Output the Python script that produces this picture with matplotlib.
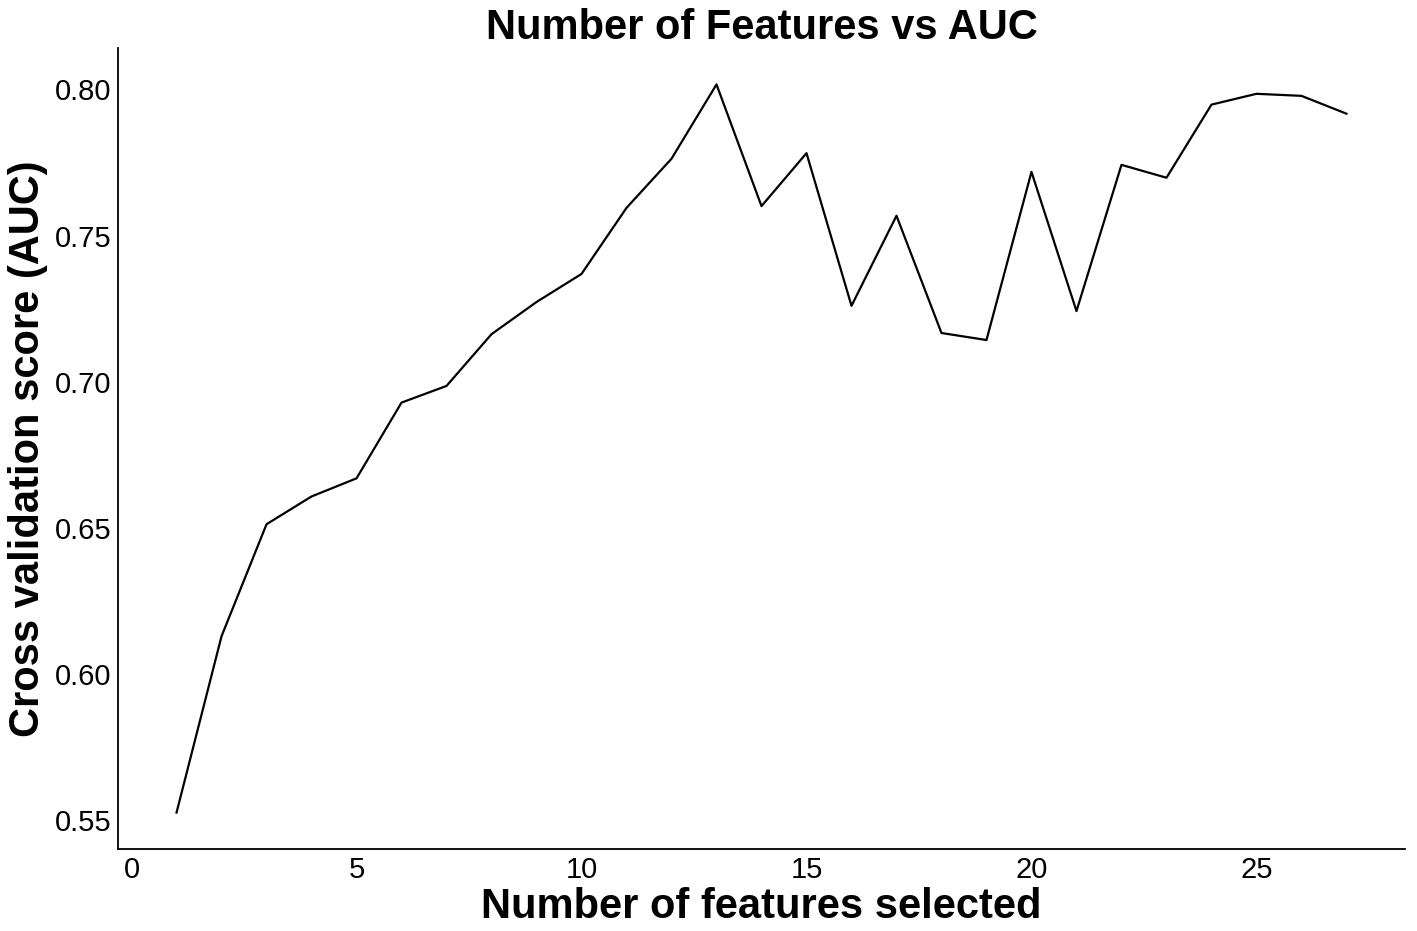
import matplotlib
matplotlib.use("Agg")
from matplotlib import pyplot as plt

# number of features vs cross validated AUC
n_features = list(range(1, 28))
auc_scores = [0.5527, 0.6130, 0.6513, 0.6608, 0.6670, 0.6929, 0.6986, 0.7163, 0.7273,
              0.7369, 0.7595, 0.7763, 0.8017, 0.7601, 0.7782, 0.7260, 0.7568, 0.7167,
              0.7143, 0.7718, 0.7242, 0.7742, 0.7698, 0.7948, 0.7985, 0.7978, 0.7917]

x_ticks = [0, 5, 10, 15, 20, 25]
y_ticks = [0.55, 0.60, 0.65, 0.70, 0.75, 0.80]

plt.rcParams['font.family'] = ['Liberation Sans', 'DejaVu Sans']

fig = plt.figure(figsize=(14.17, 9.31), dpi=100)
ax = fig.add_axes([0.0833, 0.0881, 0.9082, 0.8603])

ax.plot(n_features, auc_scores, color='black', linewidth=1.6)

ax.set_xticks(x_ticks)
ax.set_yticks(y_ticks)
ax.set_yticklabels(['%.2f' % t for t in y_ticks])
ax.tick_params(axis='both', length=0, labelsize=21, pad=5)

ax.spines['top'].set_visible(False)
ax.spines['right'].set_visible(False)
ax.spines['left'].set_linewidth(1.3)
ax.spines['bottom'].set_linewidth(1.3)

ax.set_title('Number of Features vs AUC', fontsize=30, fontweight='bold', pad=5)
ax.set_xlabel('Number of features selected', fontsize=30, fontweight='bold', labelpad=2)
ax.set_ylabel('Cross validation score (AUC)', fontsize=30, fontweight='bold', labelpad=5)

fig.savefig('out.png', dpi=100)
